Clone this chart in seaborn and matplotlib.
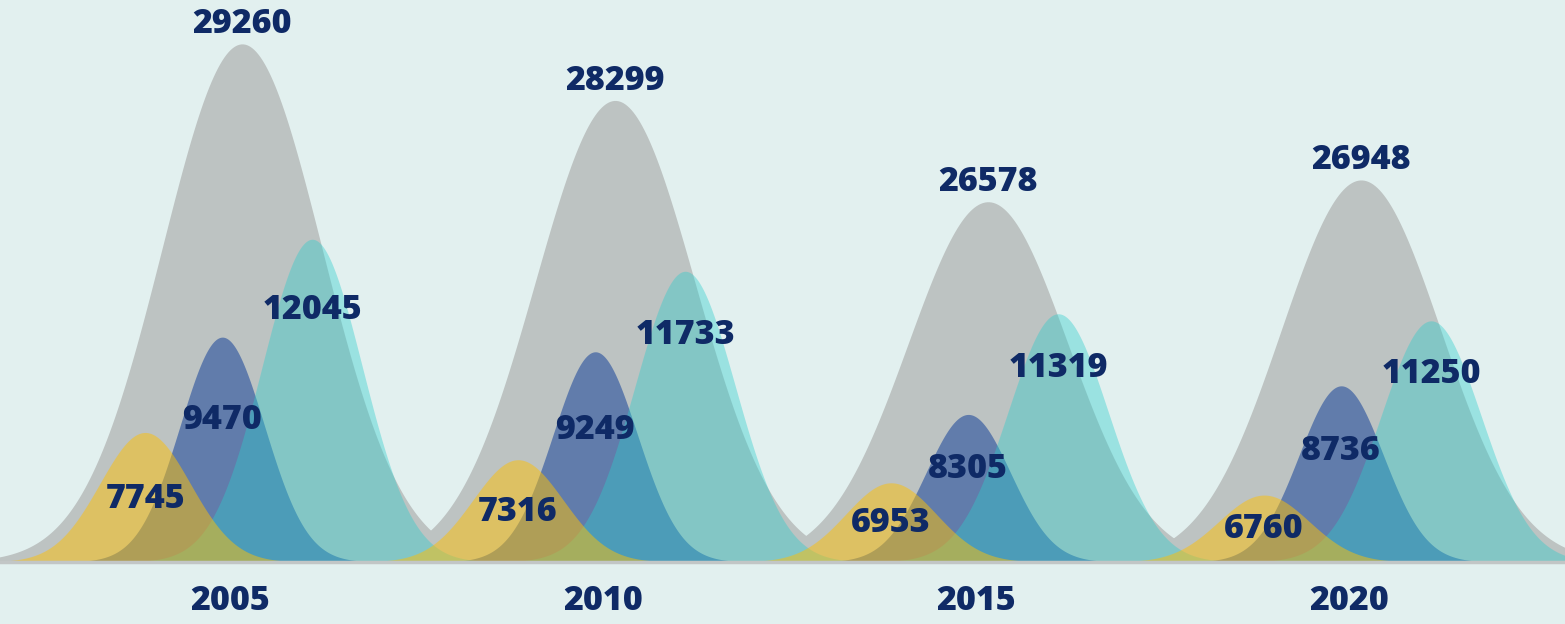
import numpy as np
import matplotlib.pyplot as plt
import seaborn as sns

sns.set_style("white")
plt.rcParams['font.family'] = ['Open Sans', 'DejaVu Sans']


# DATA

years = ['2005', '2010', '2015', '2020']

grey_vals = [29260, 28299, 26578, 26948]
teal_vals = [12045, 11733, 11319, 11250]
blue_vals = [9470, 9249, 8305, 8736]
yellow_vals = [7745, 7316, 6953, 6760]


# STYLE (drawing order: grey, blue, teal, yellow)

series = [
    dict(vals=grey_vals, color='#BDC3C2', alpha=1.0, offset=0.032, sigma=0.214,
         ylim=(20457, 30005), label='top'),
    dict(vals=blue_vals, color='#244D9D', alpha=0.6, offset=-0.021, sigma=0.113,
         ylim=(6081, 14550), label=0.63),
    dict(vals=teal_vals, color='#2ECDCC', alpha=0.4, offset=0.22, sigma=0.134,
         ylim=(8900, 14376), label=0.78),
    dict(vals=yellow_vals, color='#FEC005', alpha=0.5, offset=-0.228, sigma=0.121,
         ylim=(5707, 14548), label=0.49),
]

bg = '#E2F0EF'
navy = '#0F2A66'
fsize = 24.5

fig = plt.figure(figsize=(15.65, 6.24), dpi=100, facecolor=bg)
ax = fig.add_axes([0, 62 / 624, 1, 562 / 624])
ax.set_facecolor(bg)
ax.set_xlim(-0.617, 3.579)
ax.set_yticks([])
ax.set_xticks(range(len(years)))
ax.set_xticklabels(years, fontsize=fsize, fontweight='heavy', color=navy)
ax.tick_params(axis='x', length=0, pad=16)
sns.despine(ax=ax, left=True, right=True, top=True, bottom=True)

axes = []
for s in series:
    a = ax.twinx()
    a.set_ylim(*s['ylim'])
    a.set_yticks([])
    for sp in a.spines.values():
        sp.set_visible(False)
    base = s['ylim'][0]
    for i, v in enumerate(s['vals']):
        xc = i + s['offset']
        x = np.linspace(xc - 4 * s['sigma'], xc + 4 * s['sigma'], 300)
        y = base + (v - base) * np.exp(-0.5 * ((x - xc) / s['sigma']) ** 2)
        a.fill_between(x, base, y, color=s['color'], alpha=s['alpha'], lw=0)
    axes.append(a)

# labels on top of all shapes
top = axes[-1].twinx()
top.set_yticks([])
for sp in top.spines.values():
    sp.set_visible(False)
top.spines['bottom'].set_visible(True)
top.spines['bottom'].set_color('#C2C6C6')
top.spines['bottom'].set_linewidth(2.5)

for s, a in zip(series, axes):
    base = s['ylim'][0]
    for i, v in enumerate(s['vals']):
        xc = i + s['offset']
        if s['label'] == 'top':
            a.annotate(str(v), (xc, v), xytext=(0, 14), textcoords='offset points',
                       ha='center', va='center', fontsize=fsize, fontweight='heavy',
                       color=navy, zorder=10, annotation_clip=False)
        else:
            yl = base + s['label'] * (v - base)
            # draw on top axis so text stays above later shapes
            disp = a.transData.transform((xc, yl))
            tx, ty = top.transData.inverted().transform(disp)
            top.text(tx, ty, str(v), ha='center', va='center', fontsize=fsize,
                     fontweight='heavy', color=navy, zorder=10)

fig.savefig('out.png', dpi=100, facecolor=bg)
